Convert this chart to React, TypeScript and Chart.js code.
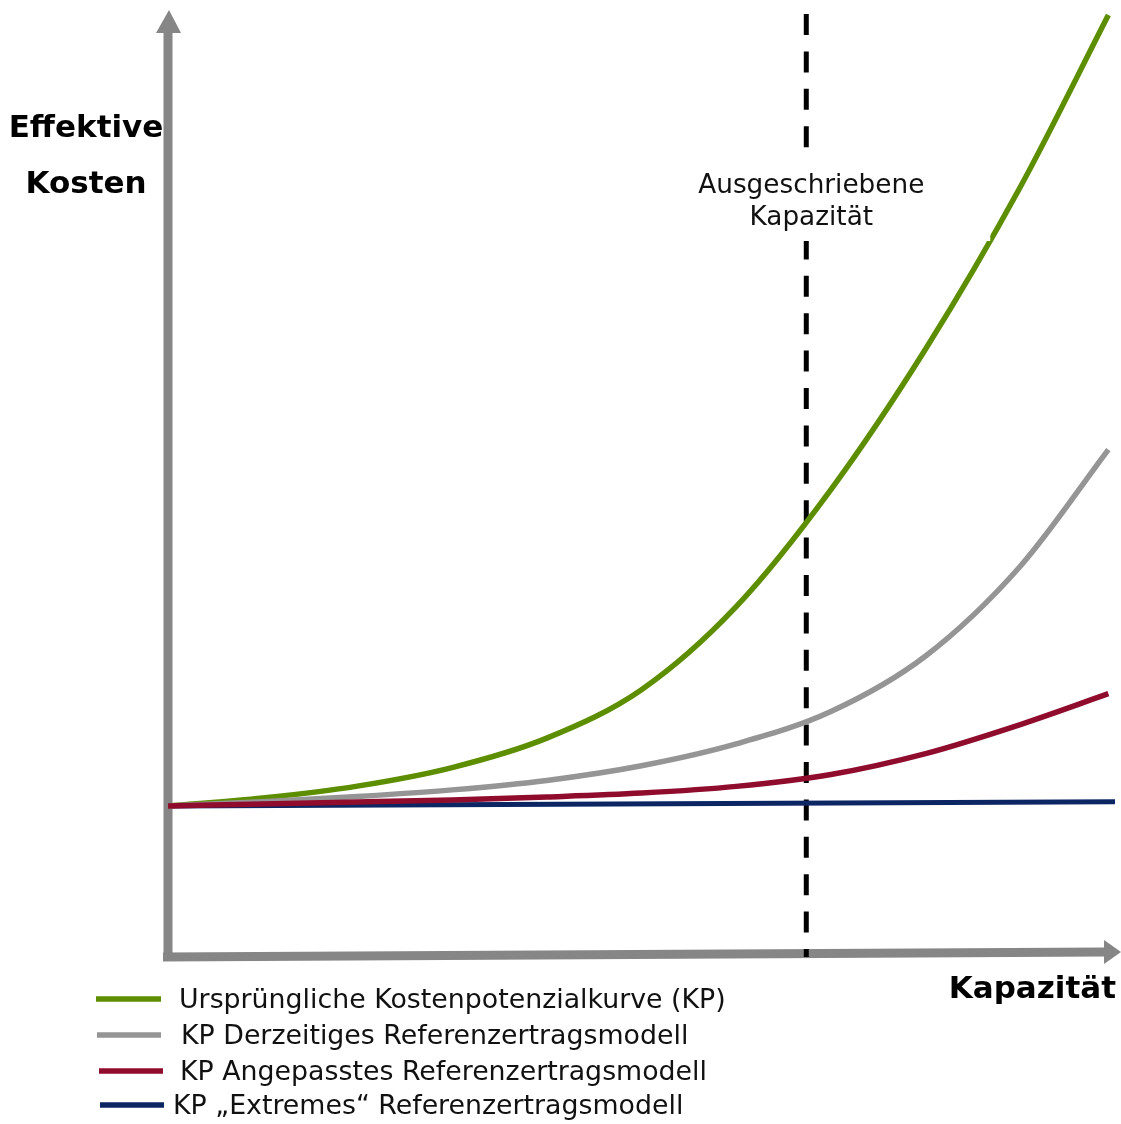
import React, { useEffect, useRef } from "react";
import { Chart, registerables } from "chart.js";

Chart.register(...registerables);

// Capacity positions (relative units, 0–100)
const capacity = [0, 10, 20, 30, 40, 50, 60, 70, 80, 90, 99.3];
// Effective costs (relative units, 0–100)
const originalCost = [15.86, 16.71, 17.96, 19.92, 23.03, 28.15, 36.93, 49.3, 64.16, 81.29, 99.47];
const currentModelCost = [15.86, 16.31, 16.86, 17.56, 18.56, 20.11, 22.42, 25.84, 31.71, 41.2, 53.53];
const adjustedModelCost = [15.86, 16.06, 16.27, 16.5, 16.81, 17.22, 17.93, 19.19, 21.4, 24.47, 27.73];
const extremeCapacity = [0, 100];
const extremeModelCost = [15.86, 16.3];

// Tendered capacity marker
const tenderedCapacity = 67.4;

const seriesLabels = [
  "Ursprüngliche Kostenpotenzialkurve (KP)",
  "KP Derzeitiges Referenzertragsmodell",
  "KP Angepasstes Referenzertragsmodell",
  "KP „Extremes“ Referenzertragsmodell",
];
const seriesColors = ["#5C8E00", "#959595", "#900C2D", "#0C2563"];

const yAxisTitle = ["Effektive", "Kosten"];
const xAxisTitle = "Kapazität";
const markerLabel = ["Ausgeschriebene", "Kapazität"];

const AXIS_COLOR = "#868686";
const FONT = "'DejaVu Sans', Verdana, sans-serif";

const toPoints = (xs: number[], ys: number[]) => xs.map((x, i) => ({ x, y: ys[i] }));

const diagramPlugin = {
  id: "diagram",
  beforeDatasetsDraw(chart: any) {
    const { ctx, chartArea, scales } = chart;
    const { left, right, top, bottom } = chartArea;
    ctx.save();

    // vertical axis with arrow head
    ctx.strokeStyle = AXIS_COLOR;
    ctx.fillStyle = AXIS_COLOR;
    ctx.lineWidth = 9;
    ctx.beginPath();
    ctx.moveTo(left, bottom + 4);
    ctx.lineTo(left, top + 22);
    ctx.stroke();
    ctx.beginPath();
    ctx.moveTo(left - 12, top + 23);
    ctx.lineTo(left + 13, top + 23);
    ctx.lineTo(left + 1, top);
    ctx.closePath();
    ctx.fill();

    // horizontal axis with arrow head
    ctx.beginPath();
    ctx.moveTo(left - 5, bottom + 1);
    ctx.lineTo(right - 10, bottom - 4);
    ctx.stroke();
    ctx.beginPath();
    ctx.moveTo(right - 11, bottom - 16);
    ctx.lineTo(right - 11, bottom + 8);
    ctx.lineTo(right + 6, bottom - 4);
    ctx.closePath();
    ctx.fill();

    // dashed marker for the tendered capacity
    const dx = scales.x.getPixelForValue(tenderedCapacity);
    ctx.strokeStyle = "#000";
    ctx.lineWidth = 5;
    ctx.setLineDash([21, 16.4]);
    ctx.beginPath();
    ctx.moveTo(dx, top + 4);
    ctx.lineTo(dx, bottom + 1);
    ctx.stroke();
    ctx.setLineDash([]);
    ctx.restore();
  },
  afterDatasetsDraw(chart: any) {
    const { ctx, chartArea, scales } = chart;
    const { left, right, top, bottom } = chartArea;
    const dx = scales.x.getPixelForValue(tenderedCapacity);
    ctx.save();

    // label box for the marker
    ctx.fillStyle = "#fff";
    ctx.fillRect(dx - 180, top + 140, 364, 91);
    ctx.fillStyle = "#111";
    ctx.font = `26.3px ${FONT}`;
    ctx.textAlign = "center";
    ctx.textBaseline = "alphabetic";
    ctx.fillText(markerLabel[0], dx + 5, top + 183);
    ctx.fillText(markerLabel[1], dx + 5, top + 215);

    // axis titles
    ctx.fillStyle = "#000";
    ctx.font = `bold 31px ${FONT}`;
    ctx.textAlign = "center";
    ctx.fillText(yAxisTitle[0], left - 82, top + 127);
    ctx.fillText(yAxisTitle[1], left - 82, top + 183);
    ctx.textAlign = "right";
    ctx.fillText(xAxisTitle, right + 1, bottom + 42);

    // legend
    const rowY = [999, 1035, 1071, 1105];
    const lineX = [[96, 161], [97, 161], [99, 163], [100, 164]];
    const textX = [179, 181, 180, 173];
    ctx.font = `26.8px ${FONT}`;
    ctx.textAlign = "left";
    ctx.textBaseline = "middle";
    chart.data.datasets.forEach((ds: any, i: number) => {
      ctx.strokeStyle = ds.borderColor;
      ctx.lineWidth = 5.5;
      ctx.beginPath();
      ctx.moveTo(lineX[i][0], rowY[i]);
      ctx.lineTo(lineX[i][1], rowY[i]);
      ctx.stroke();
      ctx.fillStyle = "#111";
      ctx.fillText(ds.label, textX[i], rowY[i] + 2);
    });
    ctx.restore();
  },
};

export default function App() {
  const canvasRef = useRef<HTMLCanvasElement | null>(null);

  useEffect(() => {
    const canvas = canvasRef.current;
    if (!canvas) return;
    const common = {
      pointRadius: 0,
      borderWidth: 5.5,
      cubicInterpolationMode: "monotone" as const,
      borderCapStyle: "butt" as const,
      borderJoinStyle: "round" as const,
      fill: false,
    };
    const chart = new Chart(canvas, {
      type: "line",
      data: {
        datasets: [
          { ...common, label: seriesLabels[0], borderColor: seriesColors[0], data: toPoints(capacity, originalCost), order: 2 },
          { ...common, label: seriesLabels[1], borderColor: seriesColors[1], data: toPoints(capacity, currentModelCost), order: 1 },
          { ...common, label: seriesLabels[2], borderColor: seriesColors[2], data: toPoints(capacity, adjustedModelCost), order: 0 },
          { ...common, label: seriesLabels[3], borderColor: seriesColors[3], borderWidth: 5, data: toPoints(extremeCapacity, extremeModelCost), order: 3 },
        ],
      },
      options: {
        animation: false,
        responsive: false,
        devicePixelRatio: 1,
        layout: { padding: { left: 168, right: 6, top: 10, bottom: 168 } },
        scales: {
          x: { type: "linear", display: false, min: 0, max: 100 },
          y: { type: "linear", display: false, min: 0, max: 100 },
        },
        plugins: { legend: { display: false }, tooltip: { enabled: false } },
      },
      plugins: [diagramPlugin],
    });
    return () => chart.destroy();
  }, []);

  return (
    <div style={{ position: "absolute", left: 0, top: 0, width: 1121, height: 1124, background: "#fff" }}>
      <canvas ref={canvasRef} width={1121} height={1124} style={{ display: "block" }} />
    </div>
  );
}
